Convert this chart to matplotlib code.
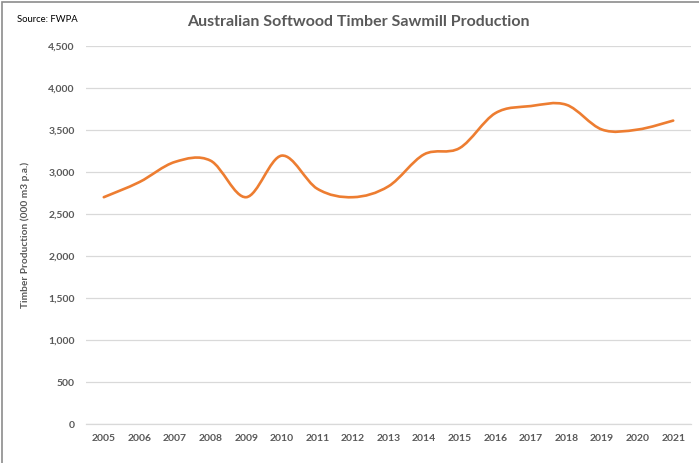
import numpy as np
import matplotlib
matplotlib.use("Agg")
import matplotlib.pyplot as plt
from matplotlib.path import Path
from matplotlib.patches import PathPatch, Rectangle
from matplotlib.ticker import FuncFormatter

years = [2005, 2006, 2007, 2008, 2009, 2010, 2011, 2012, 2013,
         2014, 2015, 2016, 2017, 2018, 2019, 2020, 2021]
production = [2700, 2880, 3120, 3135, 2700, 3195, 2800, 2700, 2830,
              3210, 3285, 3700, 3785, 3800, 3505, 3505, 3612]

title = "Australian Softwood Timber Sawmill Production"
ylabel = "Timber Production (000 m3 p.a.)"
source = "Source: FWPA"

grey = "#595959"
orange = "#ED7D31"
grid_col = "#D9D9D9"
plt.rcParams['font.family'] = ['Lato', 'DejaVu Sans']


def smooth_path(xs, ys):
    # Excel-like smoothed line: cubic Bezier segments, Catmull-Rom style tangents
    xs = np.asarray(xs, float)
    ys = np.asarray(ys, float)
    n = len(xs)
    verts = [(xs[0], ys[0])]
    codes = [Path.MOVETO]
    for i in range(n - 1):
        i0 = max(i - 1, 0)
        i3 = min(i + 2, n - 1)
        c1 = (xs[i] + (xs[i + 1] - xs[i0]) / 6, ys[i] + (ys[i + 1] - ys[i0]) / 6)
        c2 = (xs[i + 1] - (xs[i3] - xs[i]) / 6, ys[i + 1] - (ys[i3] - ys[i]) / 6)
        verts += [c1, c2, (xs[i + 1], ys[i + 1])]
        codes += [Path.CURVE4] * 3
    return Path(verts, codes)


fig = plt.figure(figsize=(6.99, 4.63), dpi=100)
ax = fig.add_axes([86 / 699, 1 - 424 / 463, 605 / 699, 378 / 463])

x = np.arange(len(years))
ax.add_patch(PathPatch(smooth_path(x, production), facecolor="none",
                       edgecolor=orange, lw=1.9, capstyle="round", zorder=3))

ax.set_xlim(-0.5, len(years) - 0.5)
ax.set_ylim(0, 4500)
ax.set_yticks(np.arange(0, 4501, 500))
ax.yaxis.set_major_formatter(FuncFormatter(lambda v, p: f"{int(v):,}"))
ax.set_xticks(x)
ax.set_xticklabels([str(y) for y in years])

ax.grid(axis="y", color=grid_col, lw=0.9)
ax.set_axisbelow(True)
for s in ["top", "right", "left"]:
    ax.spines[s].set_visible(False)
ax.spines["bottom"].set_color(grid_col)
ax.spines["bottom"].set_linewidth(0.9)
ax.tick_params(length=0, colors=grey, labelsize=7.5)
ax.tick_params(axis="y", pad=8)
ax.tick_params(axis="x", pad=7)
for lbl in ax.get_xticklabels() + ax.get_yticklabels():
    lbl.set_fontweight("bold")

ax.set_ylabel(ylabel, fontsize=7.3, fontweight="bold", color=grey, labelpad=0)
ax.yaxis.set_label_coords(-56 / 605, 0.5)

fig.text(358 / 699, 1 - 22 / 463, title, ha="center", va="center",
         fontsize=11.5, fontweight="bold", color=grey)
fig.text(17 / 699, 1 - 19 / 463, source, ha="left", va="center",
         fontsize=6.8, color="black")

fig.patches.append(Rectangle((2 / 699, -0.05), 1.2, 1 - 2 / 463 + 0.05,
                             transform=fig.transFigure, fill=False,
                             edgecolor="#8C8C8C", lw=1.2))

fig.savefig("out.png", dpi=100)
